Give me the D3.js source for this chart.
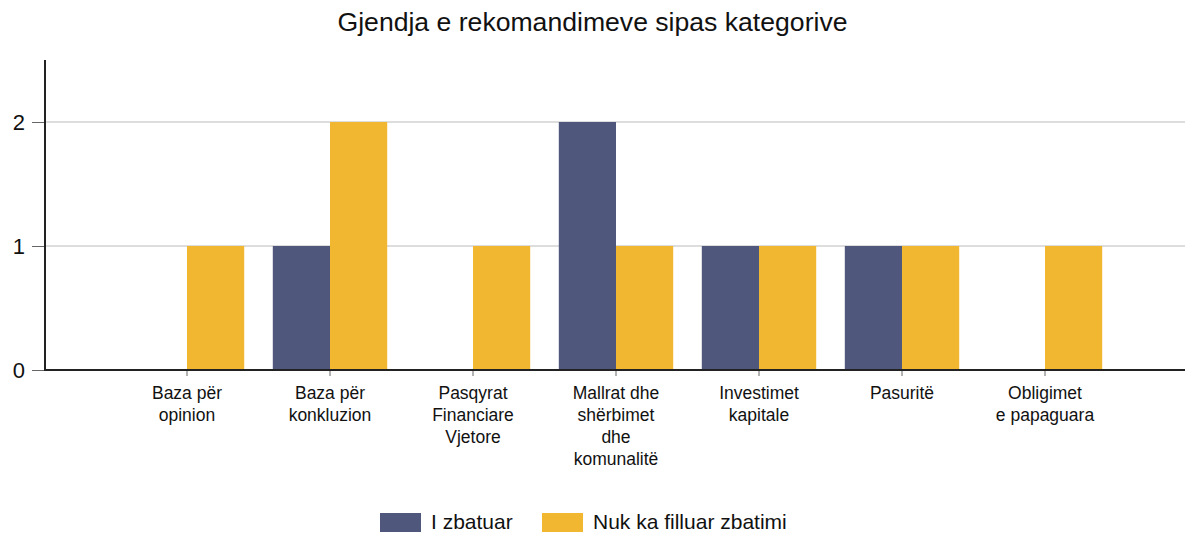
<!DOCTYPE html>
<html>
<head>
<meta charset="utf-8">
<script src="https://cdn.jsdelivr.net/npm/d3@7"></script>
<style>
  body { margin: 0; background: #fff; }
  svg { display: block; font-family: "Liberation Sans", Arial, sans-serif; }
</style>
</head>
<body>
<svg id="chart" width="1185" height="533"></svg>
<script>
// Data
var title = "Gjendja e rekomandimeve sipas kategorive";
var categories = [
  ["Baza për", "opinion"],
  ["Baza për", "konkluzion"],
  ["Pasqyrat", "Financiare", "Vjetore"],
  ["Mallrat dhe", "shërbimet", "dhe", "komunalitë"],
  ["Investimet", "kapitale"],
  ["Pasuritë"],
  ["Obligimet", "e papaguara"]
];
var seriesNames = ["I zbatuar", "Nuk ka filluar zbatimi"];
var implemented = [0, 1, 0, 2, 1, 1, 0];
var notStarted = [1, 2, 1, 1, 1, 1, 1];
var yTicks = [0, 1, 2];
var colors = ["#4f577d", "#f2b731"];

var svg = d3.select("#chart");
var W = 1185, H = 533;
var plotLeft = 45, plotTop = 60, plotBottom = 370;

var idx = categories.map(function(d, i) { return i; });

var x0 = d3.scaleBand()
  .domain(idx)
  .range([plotLeft - 1, 1188])
  .paddingInner(0.2)
  .paddingOuter(0.6);

var x1 = d3.scaleBand()
  .domain([0, 1])
  .range([0, x0.bandwidth()]);

var y = d3.scaleLinear().domain([0, 2.5]).range([plotBottom, plotTop]);

// title
svg.append("text")
  .attr("x", W / 2)
  .attr("y", 31)
  .attr("text-anchor", "middle")
  .style("font-size", "26.6px")
  .style("fill", "#111")
  .text(title);

// gridlines
svg.append("g").selectAll("line")
  .data(yTicks.filter(function(t) { return t > 0; }))
  .enter().append("line")
  .attr("x1", plotLeft).attr("x2", W)
  .attr("y1", function(d) { return y(d); })
  .attr("y2", function(d) { return y(d); })
  .style("stroke", "#dddddd")
  .style("stroke-width", 2);

// bars
var rows = idx.map(function(i) { return [implemented[i], notStarted[i]]; });
svg.append("g").selectAll("g")
  .data(rows)
  .enter().append("g")
  .attr("transform", function(d, i) { return "translate(" + x0(i) + ",0)"; })
  .selectAll("rect")
  .data(function(d) { return d.map(function(v, k) { return {k: k, v: v}; }); })
  .enter().append("rect")
  .attr("x", function(d) { return x1(d.k); })
  .attr("width", x1.bandwidth())
  .attr("y", function(d) { return y(d.v); })
  .attr("height", function(d) { return y(0) - y(d.v); })
  .style("fill", function(d) { return colors[d.k]; });

// y axis
var yAxis = svg.append("g")
  .attr("transform", "translate(" + plotLeft + ",0)")
  .call(d3.axisLeft(y).tickValues(yTicks).tickFormat(d3.format("d")).tickSize(13).tickPadding(7));
yAxis.select(".domain").remove();
yAxis.selectAll(".tick line").style("stroke", "#666");
yAxis.selectAll(".tick text")
  .style("font-size", "22px")
  .style("font-family", "Liberation Sans, Arial, sans-serif")
  .style("fill", "#111");
svg.append("line")
  .attr("x1", plotLeft).attr("x2", plotLeft)
  .attr("y1", plotTop).attr("y2", plotBottom + 1)
  .style("stroke", "#222").style("stroke-width", 2);

// x axis
var xAxis = svg.append("g")
  .attr("transform", "translate(0," + plotBottom + ")")
  .call(d3.axisBottom(x0).tickSize(6).tickFormat(""));
xAxis.select(".domain").remove();
xAxis.selectAll(".tick line").style("stroke", "#666");
svg.append("line")
  .attr("x1", plotLeft - 1).attr("x2", W)
  .attr("y1", plotBottom).attr("y2", plotBottom)
  .style("stroke", "#222").style("stroke-width", 2);

// x labels
var lbl = svg.append("g").selectAll("text")
  .data(categories)
  .enter().append("text")
  .attr("text-anchor", "middle")
  .attr("x", function(d, i) { return x0(i) + x0.bandwidth() / 2; })
  .attr("y", 399)
  .style("font-size", "17.5px")
  .style("fill", "#111");
lbl.selectAll("tspan")
  .data(function(d) { return d; })
  .enter().append("tspan")
  .attr("x", function() { return this.parentNode.getAttribute("x"); })
  .attr("dy", function(d, i) { return i === 0 ? 0 : 22; })
  .text(function(d) { return d; });

// legend
var legendX = [380, 542];
var lg = svg.append("g").selectAll("g")
  .data(seriesNames)
  .enter().append("g")
  .attr("transform", function(d, i) { return "translate(" + legendX[i] + ",513)"; });
lg.append("rect")
  .attr("width", 41).attr("height", 19)
  .style("fill", function(d, i) { return colors[i]; });
lg.append("text")
  .attr("x", 51).attr("y", 16)
  .style("font-size", "21px")
  .style("fill", "#111")
  .text(function(d) { return d; });
</script>
</body>
</html>
